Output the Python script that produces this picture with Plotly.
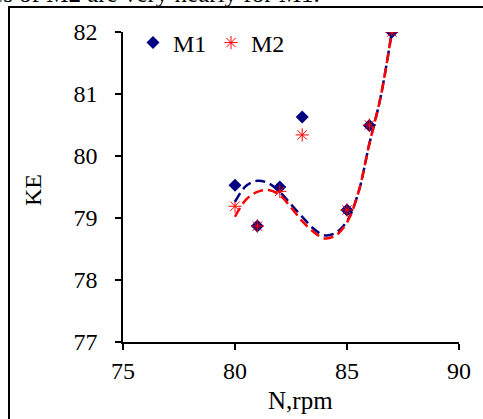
import plotly.graph_objects as go

# Kinetic energy (KE) against shaft speed for two configurations
speed_rpm = [80, 81, 82, 83, 85, 86, 87]
ke_m1 = [79.53, 78.87, 79.50, 80.63, 79.13, 80.49, 82.00]
ke_m2 = [79.19, 78.87, 79.43, 80.34, 79.13, 80.50, 82.00]

# dashed trend curves for each series
trend_rpm = [80, 80.5, 81, 81.5, 82, 82.5, 83, 83.5, 84, 84.5, 85, 85.5,
             86, 86.5, 87]
trend_m1 = [79.26, 79.52, 79.60, 79.56, 79.42, 79.22, 79.02, 78.83, 78.72,
            78.76, 78.95, 79.40, 80.20, 80.95, 82.00]
trend_m2 = [79.02, 79.30, 79.42, 79.45, 79.37, 79.17, 78.95, 78.78, 78.67,
            78.72, 78.93, 79.40, 80.20, 80.95, 82.00]

x_ticks = [75, 80, 85, 90]
y_ticks = [77, 78, 79, 80, 81, 82]

NAVY = "#000080"
RED = "#FF0000"
FONT = "Liberation Serif, Times New Roman, serif"

W, H = 483, 419
ML, MR, MT, MB = 123, 24, 32, 77
PW, PH = W - ML - MR, H - MT - MB


def px_x(p):
    return (p - ML) / PW


def px_y(p):
    return (H - MB - p) / PH


fig = go.Figure()

fig.add_trace(go.Scatter(
    x=speed_rpm, y=ke_m1, mode="markers", name="M1",
    marker=dict(symbol="diamond", size=10, color=NAVY, line=dict(width=0)),
))
fig.add_trace(go.Scatter(
    x=speed_rpm, y=ke_m2, mode="markers", name="M2",
    marker=dict(symbol="asterisk-open", size=11, color=RED,
                line=dict(width=1, color=RED)),
))
fig.add_trace(go.Scatter(
    x=trend_rpm, y=trend_m1, mode="lines", showlegend=False,
    hoverinfo="skip", line=dict(color=NAVY, width=2.5, dash="10px,5px",
                                shape="spline", smoothing=1.0),
))
fig.add_trace(go.Scatter(
    x=trend_rpm, y=trend_m2, mode="lines", showlegend=False,
    hoverinfo="skip", line=dict(color=RED, width=2.5, dash="10px,5px",
                                shape="spline", smoothing=1.0),
))

axis_common = dict(
    showgrid=False, zeroline=False, showline=True, linecolor="black",
    linewidth=1.5, ticks="outside", ticklen=6, tickwidth=1.5,
    tickcolor="black", tickfont=dict(family=FONT, size=24, color="black"),
)

fig.update_xaxes(range=[75, 90], tickvals=x_ticks, **axis_common)
fig.update_yaxes(range=[77, 82], tickvals=y_ticks, ticklabelstandoff=13,
                 **axis_common)

# frame around the figure and the caption line above it
fig.add_shape(type="path", xref="paper", yref="paper",
              path=f"M {px_x(9)},{px_y(H + 10)} L {px_x(9)},{px_y(7)} "
                   f"L {px_x(W + 10)},{px_y(7)}",
              line=dict(color="black", width=2))

fig.add_annotation(text="N,rpm", xref="paper", yref="paper",
                   x=px_x(300), y=px_y(400), showarrow=False,
                   xanchor="center", yanchor="middle",
                   font=dict(family=FONT, size=25, color="black"))
fig.add_annotation(text="KE", xref="paper", yref="paper",
                   x=px_x(33), y=px_y(190), showarrow=False, textangle=-90,
                   xanchor="center", yanchor="middle",
                   font=dict(family=FONT, size=24, color="black"))
fig.add_annotation(text="values of M2 are very nearly for M1.",
                   xref="paper", yref="paper",
                   x=px_x(322), y=px_y(9), showarrow=False,
                   xanchor="right", yanchor="bottom",
                   font=dict(family=FONT, size=25, color="black"))

fig.update_layout(
    width=W, height=H,
    margin=dict(l=ML, r=MR, t=MT, b=MB),
    paper_bgcolor="white", plot_bgcolor="white",
    showlegend=True,
    legend=dict(orientation="h", x=px_x(133), y=px_y(43),
                xanchor="left", yanchor="middle",
                font=dict(family=FONT, size=24, color="black"),
                bgcolor="rgba(0,0,0,0)", itemwidth=30, entrywidth=33),
)

fig.write_html("out.html")
